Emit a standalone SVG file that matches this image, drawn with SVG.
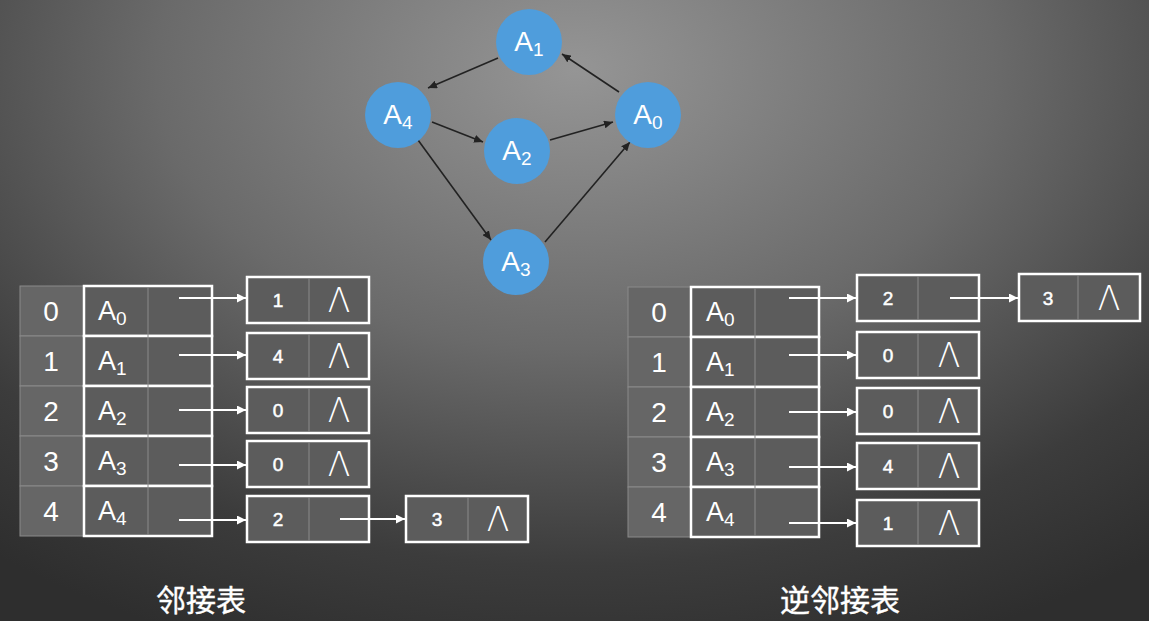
<svg xmlns="http://www.w3.org/2000/svg" width="1149" height="621" viewBox="0 0 1149 621">
<style>
.lbl{font-family:"Liberation Sans",Arial,sans-serif;fill:#fff}
.gn{fill:#4f9ddc}
.gt{font-size:28px;text-anchor:middle}
.idx{fill:#666;stroke:#8a8a8a;stroke-width:1}
.cell{fill:#5c5c5c;stroke:#fff;stroke-width:2.5}
.div{stroke:#8a8a8a;stroke-width:1}
.ix{font-size:28px;text-anchor:middle}
.an{font-size:27px}
.nv{font-size:19px;text-anchor:middle;stroke:#fff;stroke-width:0.5}
.nil{font-family:"DejaVu Sans","Liberation Sans",sans-serif;font-weight:200;fill:#fff;font-size:33px;text-anchor:middle}
.ptr{stroke:#fff;stroke-width:2;fill:none;marker-end:url(#wa)}
.edge{stroke:#222;stroke-width:1.6;fill:none;marker-end:url(#da)}
.cap{font-family:"Liberation Sans","Noto Sans CJK SC",sans-serif;fill:#fff;font-size:30px;text-anchor:middle;stroke:#fff;stroke-width:0.4}
</style>
<defs>
<radialGradient id="bg" gradientUnits="userSpaceOnUse" cx="575" cy="70" r="620" gradientTransform="translate(575 70) scale(1.5 1) translate(-575 -70)">
<stop offset="0" stop-color="#959595"/>
<stop offset="0.45" stop-color="#6a6a6a"/>
<stop offset="0.8" stop-color="#3c3c3c"/>
<stop offset="1" stop-color="#2e2e2e"/>
</radialGradient>
<marker id="wa" markerUnits="userSpaceOnUse" markerWidth="10" markerHeight="9" refX="9" refY="4.5" orient="auto"><path d="M0,0 L9,4.5 L0,9 z" fill="#fff"/></marker>
<marker id="da" markerUnits="userSpaceOnUse" markerWidth="10" markerHeight="8" refX="9" refY="4" orient="auto"><path d="M0,0 L9,4 L0,8 z" fill="#222"/></marker>
</defs>
<rect width="1149" height="621" fill="url(#bg)"/>

<g id="edges">
<line class="edge" x1="498" y1="58" x2="428" y2="88"/>
<line class="edge" x1="619" y1="92" x2="562" y2="54"/>
<line class="edge" x1="432" y1="122" x2="483" y2="142"/>
<line class="edge" x1="550" y1="140" x2="613" y2="122"/>
<line class="edge" x1="418" y1="140" x2="491" y2="240"/>
<line class="edge" x1="545" y1="242" x2="630" y2="142"/>
</g>

<g id="A1"><circle class="gn" cx="529" cy="42" r="33"/><text class="lbl gt" x="529" y="51">A<tspan font-size="19" dy="5">1</tspan></text></g>
<g id="A4"><circle class="gn" cx="398" cy="115" r="33"/><text class="lbl gt" x="398" y="124">A<tspan font-size="19" dy="5">4</tspan></text></g>
<g id="A2"><circle class="gn" cx="517" cy="151" r="33"/><text class="lbl gt" x="517" y="160">A<tspan font-size="19" dy="5">2</tspan></text></g>
<g id="A0"><circle class="gn" cx="648" cy="115" r="33"/><text class="lbl gt" x="648" y="124">A<tspan font-size="19" dy="5">0</tspan></text></g>
<g id="A3"><circle class="gn" cx="516" cy="262" r="33"/><text class="lbl gt" x="516" y="271">A<tspan font-size="19" dy="5">3</tspan></text></g>

<g id="left-table">
<rect class="idx" x="20" y="286" width="64" height="50"/>
<rect class="idx" x="20" y="336" width="64" height="50"/>
<rect class="idx" x="20" y="386" width="64" height="50"/>
<rect class="idx" x="20" y="436" width="64" height="50"/>
<rect class="idx" x="20" y="486" width="64" height="50"/>
<rect class="cell" x="84" y="286" width="128" height="50"/>
<rect class="cell" x="84" y="336" width="128" height="50"/>
<rect class="cell" x="84" y="386" width="128" height="50"/>
<rect class="cell" x="84" y="436" width="128" height="50"/>
<rect class="cell" x="84" y="486" width="128" height="50"/>
<line class="div" x1="148" y1="287" x2="148" y2="535"/>
<text class="lbl ix" x="51" y="321">0</text>
<text class="lbl ix" x="51" y="371">1</text>
<text class="lbl ix" x="51" y="421">2</text>
<text class="lbl ix" x="51" y="471">3</text>
<text class="lbl ix" x="51" y="521">4</text>
<text class="lbl an" x="98" y="320">A<tspan font-size="19" dy="5">0</tspan></text>
<text class="lbl an" x="98" y="370">A<tspan font-size="19" dy="5">1</tspan></text>
<text class="lbl an" x="98" y="420">A<tspan font-size="19" dy="5">2</tspan></text>
<text class="lbl an" x="98" y="470">A<tspan font-size="19" dy="5">3</tspan></text>
<text class="lbl an" x="98" y="520">A<tspan font-size="19" dy="5">4</tspan></text>
</g>

<g id="left-nodes">
<rect class="cell" x="247" y="277" width="122" height="46"/><line class="div" x1="309" y1="278" x2="309" y2="322"/>
<text class="lbl nv" x="278" y="307">1</text><text class="nil" x="339" y="312">Λ</text>
<rect class="cell" x="247" y="333" width="122" height="46"/><line class="div" x1="309" y1="334" x2="309" y2="378"/>
<text class="lbl nv" x="278" y="363">4</text><text class="nil" x="339" y="368">Λ</text>
<rect class="cell" x="247" y="387" width="122" height="46"/><line class="div" x1="309" y1="388" x2="309" y2="432"/>
<text class="lbl nv" x="278" y="417">0</text><text class="nil" x="339" y="422">Λ</text>
<rect class="cell" x="247" y="441" width="122" height="46"/><line class="div" x1="309" y1="442" x2="309" y2="486"/>
<text class="lbl nv" x="278" y="471">0</text><text class="nil" x="339" y="476">Λ</text>
<rect class="cell" x="247" y="496" width="122" height="46"/><line class="div" x1="309" y1="497" x2="309" y2="541"/>
<text class="lbl nv" x="278" y="526">2</text>
<rect class="cell" x="406" y="496" width="122" height="46"/><line class="div" x1="468" y1="497" x2="468" y2="541"/>
<text class="lbl nv" x="437" y="526">3</text><text class="nil" x="498" y="531">Λ</text>
</g>

<g id="right-table">
<rect class="idx" x="628" y="287" width="63" height="50"/>
<rect class="idx" x="628" y="337" width="63" height="50"/>
<rect class="idx" x="628" y="387" width="63" height="50"/>
<rect class="idx" x="628" y="437" width="63" height="50"/>
<rect class="idx" x="628" y="487" width="63" height="50"/>
<rect class="cell" x="691" y="287" width="128" height="50"/>
<rect class="cell" x="691" y="337" width="128" height="50"/>
<rect class="cell" x="691" y="387" width="128" height="50"/>
<rect class="cell" x="691" y="437" width="128" height="50"/>
<rect class="cell" x="691" y="487" width="128" height="50"/>
<line class="div" x1="755" y1="288" x2="755" y2="536"/>
<text class="lbl ix" x="659" y="322">0</text>
<text class="lbl ix" x="659" y="372">1</text>
<text class="lbl ix" x="659" y="422">2</text>
<text class="lbl ix" x="659" y="472">3</text>
<text class="lbl ix" x="659" y="522">4</text>
<text class="lbl an" x="706" y="321">A<tspan font-size="19" dy="5">0</tspan></text>
<text class="lbl an" x="706" y="371">A<tspan font-size="19" dy="5">1</tspan></text>
<text class="lbl an" x="706" y="421">A<tspan font-size="19" dy="5">2</tspan></text>
<text class="lbl an" x="706" y="471">A<tspan font-size="19" dy="5">3</tspan></text>
<text class="lbl an" x="706" y="521">A<tspan font-size="19" dy="5">4</tspan></text>
</g>

<g id="right-nodes">
<rect class="cell" x="857" y="275" width="122" height="46"/><line class="div" x1="918" y1="276" x2="918" y2="320"/>
<text class="lbl nv" x="888" y="305">2</text>
<rect class="cell" x="1019" y="274" width="121" height="47"/><line class="div" x1="1078" y1="275" x2="1078" y2="320"/>
<text class="lbl nv" x="1048" y="305">3</text><text class="nil" x="1109" y="310">Λ</text>
<rect class="cell" x="857" y="332" width="122" height="46"/><line class="div" x1="918" y1="333" x2="918" y2="377"/>
<text class="lbl nv" x="888" y="362">0</text><text class="nil" x="949" y="367">Λ</text>
<rect class="cell" x="857" y="388" width="122" height="46"/><line class="div" x1="918" y1="389" x2="918" y2="433"/>
<text class="lbl nv" x="888" y="418">0</text><text class="nil" x="949" y="423">Λ</text>
<rect class="cell" x="857" y="443" width="122" height="46"/><line class="div" x1="918" y1="444" x2="918" y2="488"/>
<text class="lbl nv" x="888" y="473">4</text><text class="nil" x="949" y="478">Λ</text>
<rect class="cell" x="857" y="500" width="122" height="46"/><line class="div" x1="918" y1="501" x2="918" y2="545"/>
<text class="lbl nv" x="888" y="530">1</text><text class="nil" x="949" y="535">Λ</text>
</g>

<g id="pointers">
<line class="ptr" x1="179" y1="298" x2="246" y2="298"/>
<line class="ptr" x1="179" y1="355" x2="246" y2="355"/>
<line class="ptr" x1="179" y1="410" x2="246" y2="410"/>
<line class="ptr" x1="179" y1="465" x2="246" y2="465"/>
<line class="ptr" x1="179" y1="520" x2="246" y2="520"/>
<line class="ptr" x1="340" y1="519" x2="405" y2="519"/>
<line class="ptr" x1="789" y1="298" x2="856" y2="298"/>
<line class="ptr" x1="789" y1="355" x2="856" y2="355"/>
<line class="ptr" x1="789" y1="412" x2="856" y2="412"/>
<line class="ptr" x1="789" y1="467" x2="856" y2="467"/>
<line class="ptr" x1="789" y1="523" x2="856" y2="523"/>
<line class="ptr" x1="950" y1="298" x2="1018" y2="298"/>
</g>

<text class="cap" x="201" y="611">邻接表</text>
<text class="cap" x="840" y="611">逆邻接表</text>
</svg>
